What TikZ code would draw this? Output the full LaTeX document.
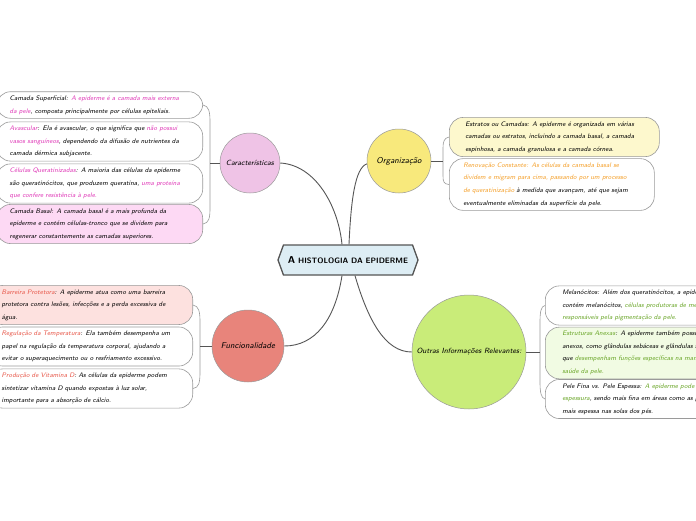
\documentclass[tikz,border=0pt]{standalone}
\usepackage{fontspec}
\usetikzlibrary{shapes.symbols,calc}
\definecolor{mag}{HTML}{E03AB8}
\definecolor{orng}{HTML}{F5A02A}
\definecolor{red1}{HTML}{E8584A}
\definecolor{grn}{HTML}{6AA628}
\definecolor{edgec}{HTML}{555555}
\definecolor{boxline}{HTML}{9A9A9A}
\definecolor{rootfill}{HTML}{DDEDF4}
\definecolor{charfill}{HTML}{EFC3E6}
\definecolor{orgfill}{HTML}{F8E97C}
\definecolor{funcfill}{HTML}{E8847B}
\definecolor{outfill}{HTML}{C9EC79}
\definecolor{cfour}{HTML}{FDD9F4}
\definecolor{oone}{HTML}{FDF8CD}
\definecolor{fone}{HTML}{FDE1DF}
\definecolor{rtwo}{HTML}{F1FBE3}
\newcommand{\mg}[1]{\textcolor{mag}{#1}}
\newcommand{\og}[1]{\textcolor{orng}{#1}}
\newcommand{\rd}[1]{\textcolor{red1}{#1}}
\newcommand{\gr}[1]{\textcolor{grn}{#1}}
\tikzset{
  leaf/.style={draw=boxline, line width=0.6pt, rounded corners=14pt,
    font=\sffamily\itshape\fontsize{6.6}{12.6}\selectfont, align=left,
    inner xsep=13pt, inner ysep=4pt, text width=180pt},
  topic/.style={circle, draw=boxline, line width=0.5pt,
    font=\sffamily\itshape\fontsize{7.5}{9}\selectfont, inner sep=0pt, align=center},
  conn/.style={draw=edgec, line width=0.9pt},
  bracket/.style={draw=boxline, line width=0.6pt},
}
\begin{document}
\begin{tikzpicture}[x=1pt,y=-1pt]
\clip (0,0) rectangle (696,520);
\fill[white] (0,0) rectangle (696,520);

% root
\node[signal, signal to=west and east, signal pointer angle=140, draw=edgec,
  line width=1.3pt, fill=rootfill, minimum width=140pt, minimum height=30pt,
  inner sep=2pt, font=\sffamily\bfseries\fontsize{7.8}{8}\selectfont] (root) at (348,260)
  {{\fontsize{10}{10}\selectfont A} HISTOLOGIA DA EPIDERME};

% topics
\node[topic, fill=charfill, minimum size=60pt] (char) at (250,163) {Características};
\node[topic, fill=orgfill, minimum size=64pt, font=\sffamily\itshape\fontsize{8.5}{10}\selectfont] (org) at (399,161) {Organização};
\node[topic, fill=funcfill, minimum size=72pt, font=\sffamily\itshape\fontsize{8.5}{10}\selectfont] (func) at (248,346) {Funcionalidade};
\node[topic, fill=outfill, minimum size=114pt] (outras) at (469,352) {Outras Informações Relevantes:};

% connectors root -> topics
\draw[conn] ($(root.north)+(-6,0)$) .. controls (338,205) and (315,165) .. (char.east);
\draw[conn] ($(root.north)+(1,0)$) .. controls (351,200) and (355,168) .. (org.185);
\draw[conn] ($(root.south)+(-6,0)$) .. controls (335,320) and (315,346) .. (func.east);
\draw[conn] ($(root.south)+(7,0)$) .. controls (368,320) and (385,352) .. (outras.west);

% Características leaves
\node[leaf, anchor=east] (c1) at (203,105) {Camada Superficial: \mg{A epiderme é a camada mais externa}\\\mg{da pele}, composta principalmente por células epiteliais.};
\node[leaf, anchor=east] (c2) at (203,141.5) {\mg{Avascular}: Ela é avascular, o que significa que \mg{não possui}\\\mg{vasos sanguíneos}, dependendo da difusão de nutrientes da\\camada dérmica subjacente.};
\node[leaf, anchor=east] (c3) at (203,183.5) {\mg{Células Queratinizadas}: A maioria das células da epiderme\\são queratinócitos, que produzem queratina, \mg{uma proteína}\\\mg{que confere resistência à pele.}};
\node[leaf, anchor=east, fill=cfour] (c4) at (203,224) {Camada Basal: A camada basal é a mais profunda da\\epiderme e contém células-tronco que se dividem para\\regenerar constantemente as camadas superiores.};
\coordinate (cb) at (210,163);
\draw[bracket] (c1.east) .. controls (209,106) and (210,112) .. (210,122) -- (210,208) .. controls (210,218) and (209,223) .. (c4.east);
\draw[conn, line width=0.7pt] (char.west) -- (cb);

% Organização leaves
\node[leaf, anchor=west, fill=oone, inner xsep=16pt, text width=178pt] (o1) at (449,137) {Estratos ou Camadas: A epiderme é organizada em várias\\camadas ou estratos, incluindo a camada basal, a camada\\espinhosa, a camada granulosa e a camada córnea.};
\node[leaf, anchor=west, inner xsep=14pt, text width=177pt] (o2) at (449,184.5) {\og{Renovação Constante: As células da camada basal se}\\\og{dividem e migram para cima, passando por um processo}\\\og{de queratinização} à medida que avançam, até que sejam\\eventualmente eliminadas da superfície da pele.};
\coordinate (ob) at (443,161);
\draw[bracket] (o1.west) .. controls (444,138) and (443,142) .. (443,148) -- (443,176) .. controls (443,182) and (444,184) .. (o2.west);
\draw[conn, line width=0.7pt] (org.east) -- (ob);

% Funcionalidade leaves
\node[leaf, anchor=east, fill=fone, text width=178pt] (f1) at (193,305) {\rd{Barreira Protetora}: A epiderme atua como uma barreira\\protetora contra lesões, infecções e a perda excessiva de\\água.};
\node[leaf, anchor=east, text width=178pt] (f2) at (193,346.5) {\rd{Regulação da Temperatura}: Ela também desempenha um\\papel na regulação da temperatura corporal, ajudando a\\evitar o superaquecimento ou o resfriamento excessivo.};
\node[leaf, anchor=east, text width=178pt] (f3) at (193,388.5) {\rd{Produção de Vitamina D}: As células da epiderme podem\\sintetizar vitamina D quando expostas à luz solar,\\importante para a absorção de cálcio.};
\coordinate (fb) at (200,346);
\draw[bracket] (f1.east) .. controls (199,306) and (200,312) .. (200,322) -- (200,372) .. controls (200,382) and (199,388) .. (f3.east);
\draw[conn, line width=0.7pt] (func.west) -- (fb);

% Outras leaves
\node[leaf, anchor=west, inner xsep=17pt] (r1) at (545,305.5) {Melanócitos: Além dos queratinócitos, a epiderme\\contém melanócitos, \gr{células produtoras de melanina,}\\\gr{responsáveis pela pigmentação da pele.}};
\node[leaf, anchor=west, inner xsep=17pt, fill=rtwo] (r2) at (545,353) {\gr{Estruturas Anexas}: A epiderme também possui\\anexos, como glândulas sebáceas e glândulas sudoríparas,\\que \gr{desempenham funções específicas na manutenção da}\\\gr{saúde da pele.}};
\node[leaf, anchor=west, inner xsep=17pt] (r3) at (545,399) {Pele Fina vs. Pele Espessa: \gr{A epiderme pode variar em}\\\gr{espessura}, sendo mais fina em áreas como as pálpebras e\\mais espessa nas solas dos pés.};
\coordinate (rb) at (540,352);
\draw[bracket] (r1.west) .. controls (541,306) and (540,312) .. (540,322) -- (540,382) .. controls (540,392) and (541,398) .. (r3.west);
\draw[conn, line width=0.7pt] (outras.east) -- (rb);
\end{tikzpicture}
\end{document}
